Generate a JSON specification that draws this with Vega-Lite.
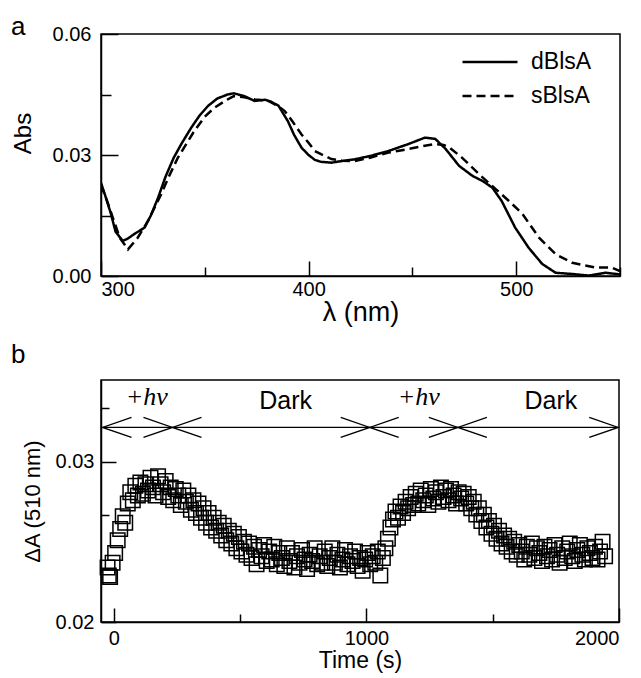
{
"$schema": "https://vega.github.io/schema/vega-lite/v6.json",
"background": "white",
"padding": {"left": 10, "top": 13, "right": 5, "bottom": 5},
"spacing": 15,
"config": {
  "font": "Liberation Sans",
  "view": {"stroke": "black", "strokeWidth": 1.5},
  "axis": {"domainColor": "black", "domainWidth": 1.5, "tickColor": "black", "tickWidth": 1.5, "labelFont": "Liberation Sans", "labelFontSize": 20, "labelColor": "black", "titleFont": "Liberation Sans", "titleFontWeight": "normal", "titleColor": "black", "grid": false},
  "title": {"font": "Liberation Sans", "fontWeight": "normal", "fontSize": 26, "color": "black"}
},
"datasets": {
  "spec": [
    {"s":"dBlsA","w":300,"a":0.0231},{"s":"dBlsA","w":302,"a":0.0200},{"s":"dBlsA","w":304.8,"a":0.0154},{"s":"dBlsA","w":307,"a":0.0110},{"s":"dBlsA","w":310.5,"a":0.0087},{"s":"dBlsA","w":313,"a":0.0093},{"s":"dBlsA","w":316,"a":0.0104},{"s":"dBlsA","w":321,"a":0.0120},{"s":"dBlsA","w":324,"a":0.0150},{"s":"dBlsA","w":327.5,"a":0.0194},{"s":"dBlsA","w":331,"a":0.0245},{"s":"dBlsA","w":335,"a":0.0293},{"s":"dBlsA","w":339,"a":0.0330},{"s":"dBlsA","w":343.5,"a":0.0368},{"s":"dBlsA","w":347.5,"a":0.0398},{"s":"dBlsA","w":351.6,"a":0.0422},{"s":"dBlsA","w":356,"a":0.0440},{"s":"dBlsA","w":361,"a":0.0450},{"s":"dBlsA","w":364,"a":0.0453},{"s":"dBlsA","w":369,"a":0.0446},{"s":"dBlsA","w":374,"a":0.0434},{"s":"dBlsA","w":379,"a":0.0437},{"s":"dBlsA","w":382,"a":0.0432},{"s":"dBlsA","w":385.5,"a":0.0422},{"s":"dBlsA","w":390,"a":0.0384},{"s":"dBlsA","w":393,"a":0.0350},{"s":"dBlsA","w":396.6,"a":0.0318},{"s":"dBlsA","w":400,"a":0.0300},{"s":"dBlsA","w":403,"a":0.0288},{"s":"dBlsA","w":406,"a":0.0283},{"s":"dBlsA","w":411,"a":0.0281},{"s":"dBlsA","w":416,"a":0.0285},{"s":"dBlsA","w":422,"a":0.0289},{"s":"dBlsA","w":430,"a":0.0298},{"s":"dBlsA","w":438.5,"a":0.0310},{"s":"dBlsA","w":448,"a":0.0327},{"s":"dBlsA","w":456,"a":0.0343},{"s":"dBlsA","w":461,"a":0.0340},{"s":"dBlsA","w":466,"a":0.0315},{"s":"dBlsA","w":472.5,"a":0.0273},{"s":"dBlsA","w":479,"a":0.0248},{"s":"dBlsA","w":484,"a":0.0235},{"s":"dBlsA","w":488.5,"a":0.0219},{"s":"dBlsA","w":493,"a":0.0186},{"s":"dBlsA","w":499.5,"a":0.0120},{"s":"dBlsA","w":506,"a":0.0070},{"s":"dBlsA","w":512.5,"a":0.0030},{"s":"dBlsA","w":519,"a":0.0008},{"s":"dBlsA","w":527,"a":0.0005},{"s":"dBlsA","w":535,"a":0.0001},{"s":"dBlsA","w":543,"a":0.0008},{"s":"dBlsA","w":550,"a":0.0004},
    {"s":"sBlsA","w":300,"a":0.0225},{"s":"sBlsA","w":303,"a":0.0185},{"s":"sBlsA","w":306,"a":0.0140},{"s":"sBlsA","w":309,"a":0.0095},{"s":"sBlsA","w":313,"a":0.0066},{"s":"sBlsA","w":317.7,"a":0.0095},{"s":"sBlsA","w":323,"a":0.0140},{"s":"sBlsA","w":329,"a":0.0203},{"s":"sBlsA","w":333,"a":0.0250},{"s":"sBlsA","w":337,"a":0.0293},{"s":"sBlsA","w":345,"a":0.0360},{"s":"sBlsA","w":350,"a":0.0395},{"s":"sBlsA","w":354.6,"a":0.0417},{"s":"sBlsA","w":360,"a":0.0435},{"s":"sBlsA","w":364,"a":0.0446},{"s":"sBlsA","w":369,"a":0.0443},{"s":"sBlsA","w":374,"a":0.0438},{"s":"sBlsA","w":380.6,"a":0.0434},{"s":"sBlsA","w":385,"a":0.0422},{"s":"sBlsA","w":388.5,"a":0.0409},{"s":"sBlsA","w":392,"a":0.0385},{"s":"sBlsA","w":396.6,"a":0.0351},{"s":"sBlsA","w":400,"a":0.0330},{"s":"sBlsA","w":403,"a":0.0310},{"s":"sBlsA","w":406,"a":0.0302},{"s":"sBlsA","w":411,"a":0.0290},{"s":"sBlsA","w":416,"a":0.0286},{"s":"sBlsA","w":422,"a":0.0285},{"s":"sBlsA","w":430,"a":0.0294},{"s":"sBlsA","w":438.5,"a":0.0306},{"s":"sBlsA","w":445,"a":0.0312},{"s":"sBlsA","w":451,"a":0.0318},{"s":"sBlsA","w":456,"a":0.0323},{"s":"sBlsA","w":461,"a":0.0327},{"s":"sBlsA","w":465,"a":0.0325},{"s":"sBlsA","w":468,"a":0.0318},{"s":"sBlsA","w":474,"a":0.0293},{"s":"sBlsA","w":482,"a":0.0253},{"s":"sBlsA","w":490,"a":0.0216},{"s":"sBlsA","w":496.5,"a":0.0186},{"s":"sBlsA","w":503,"a":0.0154},{"s":"sBlsA","w":511,"a":0.0095},{"s":"sBlsA","w":519,"a":0.0054},{"s":"sBlsA","w":527,"a":0.0033},{"s":"sBlsA","w":538,"a":0.0021},{"s":"sBlsA","w":546,"a":0.0021},{"s":"sBlsA","w":550,"a":0.0012}
  ],
  "kin": [
    {"t":-25,"v":0.0234},{"t":-20,"v":0.0229},{"t":-15,"v":0.0228},{"t":-5,"v":0.0237},{"t":5,"v":0.0243},{"t":15,"v":0.0251},{"t":25,"v":0.0258},{"t":35,"v":0.0266},{"t":45,"v":0.0262},{"t":55,"v":0.0274},{"t":65,"v":0.0281},{"t":75,"v":0.0276},{"t":85,"v":0.0285},{"t":95,"v":0.0279},{"t":105,"v":0.0287},{"t":115,"v":0.0280},{"t":125,"v":0.0286},{"t":135,"v":0.0282},{"t":145,"v":0.0290},{"t":155,"v":0.0284},{"t":165,"v":0.0279},{"t":175,"v":0.0291},{"t":185,"v":0.0286},{"t":195,"v":0.0281},{"t":205,"v":0.0288},{"t":215,"v":0.0278},{"t":225,"v":0.0284},{"t":235,"v":0.0276},{"t":245,"v":0.0283},{"t":255,"v":0.0279},{"t":265,"v":0.0273},{"t":275,"v":0.0282},{"t":285,"v":0.0275},{"t":295,"v":0.0279},{"t":305,"v":0.0270},{"t":315,"v":0.0276},{"t":325,"v":0.0268},{"t":335,"v":0.0274},{"t":345,"v":0.0265},{"t":355,"v":0.0271},{"t":365,"v":0.0262},{"t":375,"v":0.0268},{"t":385,"v":0.0259},{"t":395,"v":0.0265},{"t":405,"v":0.0257},{"t":415,"v":0.0262},{"t":425,"v":0.0254},{"t":435,"v":0.0260},{"t":445,"v":0.0251},{"t":455,"v":0.0257},{"t":465,"v":0.0249},{"t":475,"v":0.0255},{"t":485,"v":0.0246},{"t":495,"v":0.0253},{"t":505,"v":0.0244},{"t":515,"v":0.0250},{"t":525,"v":0.0242},{"t":535,"v":0.0249},{"t":545,"v":0.0240},{"t":555,"v":0.0247},{"t":565,"v":0.0236},{"t":575,"v":0.0245},{"t":585,"v":0.0241},{"t":595,"v":0.0248},{"t":605,"v":0.0238},{"t":615,"v":0.0244},{"t":625,"v":0.0239},{"t":635,"v":0.0247},{"t":645,"v":0.0236},{"t":655,"v":0.0243},{"t":665,"v":0.0240},{"t":675,"v":0.0235},{"t":685,"v":0.0246},{"t":695,"v":0.0238},{"t":705,"v":0.0243},{"t":715,"v":0.0234},{"t":725,"v":0.0241},{"t":735,"v":0.0237},{"t":745,"v":0.0245},{"t":755,"v":0.0239},{"t":765,"v":0.0233},{"t":775,"v":0.0242},{"t":785,"v":0.0238},{"t":795,"v":0.0246},{"t":805,"v":0.0236},{"t":815,"v":0.0241},{"t":825,"v":0.0237},{"t":835,"v":0.0244},{"t":845,"v":0.0235},{"t":855,"v":0.0240},{"t":865,"v":0.0246},{"t":875,"v":0.0237},{"t":885,"v":0.0242},{"t":895,"v":0.0234},{"t":905,"v":0.0239},{"t":915,"v":0.0245},{"t":925,"v":0.0236},{"t":935,"v":0.0241},{"t":945,"v":0.0238},{"t":955,"v":0.0244},{"t":965,"v":0.0235},{"t":975,"v":0.0240},{"t":985,"v":0.0232},{"t":995,"v":0.0239},{"t":1005,"v":0.0243},{"t":1015,"v":0.0236},{"t":1025,"v":0.0241},{"t":1035,"v":0.0237},{"t":1045,"v":0.0244},{"t":1055,"v":0.0229},{"t":1065,"v":0.0240},{"t":1075,"v":0.0246},{"t":1085,"v":0.0252},{"t":1095,"v":0.0259},{"t":1105,"v":0.0264},{"t":1115,"v":0.0269},{"t":1125,"v":0.0265},{"t":1135,"v":0.0272},{"t":1145,"v":0.0268},{"t":1155,"v":0.0275},{"t":1165,"v":0.0271},{"t":1175,"v":0.0278},{"t":1185,"v":0.0273},{"t":1195,"v":0.0280},{"t":1205,"v":0.0274},{"t":1215,"v":0.0282},{"t":1225,"v":0.0276},{"t":1235,"v":0.0279},{"t":1245,"v":0.0273},{"t":1255,"v":0.0283},{"t":1265,"v":0.0277},{"t":1275,"v":0.0281},{"t":1285,"v":0.0275},{"t":1295,"v":0.0284},{"t":1305,"v":0.0278},{"t":1315,"v":0.0282},{"t":1325,"v":0.0276},{"t":1335,"v":0.0283},{"t":1345,"v":0.0279},{"t":1355,"v":0.0274},{"t":1365,"v":0.0281},{"t":1375,"v":0.0277},{"t":1385,"v":0.0280},{"t":1395,"v":0.0274},{"t":1405,"v":0.0278},{"t":1415,"v":0.0271},{"t":1425,"v":0.0275},{"t":1435,"v":0.0267},{"t":1445,"v":0.0271},{"t":1455,"v":0.0263},{"t":1465,"v":0.0267},{"t":1475,"v":0.0259},{"t":1485,"v":0.0263},{"t":1495,"v":0.0255},{"t":1505,"v":0.0260},{"t":1515,"v":0.0252},{"t":1525,"v":0.0257},{"t":1535,"v":0.0249},{"t":1545,"v":0.0254},{"t":1555,"v":0.0247},{"t":1565,"v":0.0252},{"t":1575,"v":0.0244},{"t":1585,"v":0.0250},{"t":1595,"v":0.0242},{"t":1605,"v":0.0248},{"t":1615,"v":0.0244},{"t":1625,"v":0.0239},{"t":1635,"v":0.0247},{"t":1645,"v":0.0242},{"t":1655,"v":0.0249},{"t":1665,"v":0.0240},{"t":1675,"v":0.0246},{"t":1685,"v":0.0243},{"t":1695,"v":0.0238},{"t":1705,"v":0.0247},{"t":1715,"v":0.0241},{"t":1725,"v":0.0245},{"t":1735,"v":0.0239},{"t":1745,"v":0.0248},{"t":1755,"v":0.0242},{"t":1765,"v":0.0237},{"t":1775,"v":0.0246},{"t":1785,"v":0.0240},{"t":1795,"v":0.0244},{"t":1805,"v":0.0249},{"t":1815,"v":0.0241},{"t":1825,"v":0.0238},{"t":1835,"v":0.0245},{"t":1845,"v":0.0248},{"t":1855,"v":0.0242},{"t":1865,"v":0.0239},{"t":1875,"v":0.0246},{"t":1885,"v":0.0243},{"t":1895,"v":0.0240},{"t":1905,"v":0.0247},{"t":1915,"v":0.0239},{"t":1925,"v":0.0244},{"t":1935,"v":0.0250},{"t":1945,"v":0.0241}
  ],
  "arrow": [{"t":-45,"t2":1997,"v":0.03214}],
  "heads": [
    {"t":-45,"v":0.03214,"dir":"left"},{"t":232,"v":0.03214,"dir":"right"},{"t":232,"v":0.03214,"dir":"left"},{"t":1013,"v":0.03214,"dir":"right"},{"t":1013,"v":0.03214,"dir":"left"},{"t":1362,"v":0.03214,"dir":"right"},{"t":1362,"v":0.03214,"dir":"left"},{"t":1997,"v":0.03214,"dir":"right"}
  ],
  "light": [{"t":130,"v":0.03356,"label":"+hν"},{"t":1207,"v":0.03356,"label":"+hν"}],
  "dark": [{"t":680,"v":0.03331,"label":"Dark"},{"t":1730,"v":0.03331,"label":"Dark"}]
},
"vconcat": [
  {
    "width": 519, "height": 242,
    "title": {"text": "a", "anchor": "start", "frame": "group", "dx": -90, "offset": -16},
    "data": {"name": "spec"},
    "mark": {"type": "line", "strokeWidth": 2.5, "clip": true, "color": "black"},
    "encoding": {
      "x": {"field": "w", "type": "quantitative", "scale": {"domain": [300, 550], "nice": false, "zero": false},
        "axis": {"title": "λ (nm)", "titleFontSize": 27, "titlePadding": 0, "labelPadding": 18, "values": [300, 350, 400, 450, 500, 550], "format": "d",
          "labelExpr": "datum.value % 100 === 0 ? datum.label : ''",
          "tickSize": {"condition": {"test": "datum.value % 100 === 0", "value": -15}, "value": -9}}},
      "y": {"field": "a", "type": "quantitative", "scale": {"domain": [0, 0.06], "nice": false},
        "axis": {"title": "Abs", "titleFontSize": 24, "titlePadding": 17, "titleY": 99, "labelPadding": 27, "values": [0, 0.015, 0.03, 0.045, 0.06], "format": ".2f",
          "labelExpr": "abs(datum.value/0.03 - round(datum.value/0.03)) < 0.000001 ? format(datum.value, '.2f') : ''",
          "tickSize": {"condition": {"test": "abs(datum.value/0.03 - round(datum.value/0.03)) < 0.000001", "value": -17}, "value": -10}}},
      "strokeDash": {"field": "s", "type": "nominal", "scale": {"domain": ["dBlsA", "sBlsA"], "range": [[1, 0], [9, 5]]},
        "legend": {"title": null, "orient": "none", "legendX": 360, "legendY": 13, "symbolType": "stroke", "symbolSize": 3025, "symbolStrokeWidth": 2.5, "symbolStrokeColor": "black", "labelFontSize": 23, "labelFont": "Liberation Sans", "labelColor": "black", "labelOffset": 12, "clipHeight": 30, "rowPadding": 4, "padding": 0}}
    }
  },
  {
    "width": 518, "height": 242,
    "title": {"text": "b", "anchor": "start", "frame": "group", "dx": -90, "offset": 12},
    "encoding": {
      "x": {"field": "t", "type": "quantitative", "scale": {"domain": [-51, 2000], "nice": false, "zero": false},
        "axis": {"title": "Time (s)", "titleFontSize": 23, "titlePadding": 1, "labelPadding": 20, "values": [0, 500, 1000, 1500, 2000], "format": "d",
          "labelExpr": "datum.value % 1000 === 0 ? datum.label : ''",
          "tickSize": {"condition": {"test": "datum.value % 1000 === 0", "value": -14}, "value": -8}}},
      "y": {"field": "v", "type": "quantitative", "scale": {"domain": [0.02, 0.0351], "nice": false, "zero": false},
        "axis": {"title": "ΔA (510 nm)", "titleFontSize": 22, "titlePadding": 11, "labelPadding": 22, "values": [0.02, 0.023333, 0.026667, 0.03, 0.033333], "format": ".2f",
          "labelExpr": "abs(datum.value*100 - round(datum.value*100)) < 0.00001 ? format(datum.value, '.2f') : ''",
          "tickSize": {"condition": {"test": "abs(datum.value*100 - round(datum.value*100)) < 0.00001", "value": -15}, "value": -8}}}
    },
    "layer": [
      {"data": {"name": "arrow"}, "mark": {"type": "rule", "color": "black", "strokeWidth": 1.3}, "encoding": {"x2": {"field": "t2"}}},
      {"data": {"name": "heads"}, "mark": {"type": "point", "filled": false, "size": 3364, "stroke": "black", "strokeWidth": 1.3, "opacity": 1},
        "encoding": {"shape": {"field": "dir", "type": "nominal", "scale": {"domain": ["left", "right"], "range": ["M1,-0.345L0,0L1,0.345", "M-1,-0.345L0,0L-1,0.345"]}, "legend": null}}},
      {"data": {"name": "kin"}, "mark": {"type": "point", "shape": "square", "filled": false, "size": 210, "stroke": "black", "strokeWidth": 1.5, "opacity": 1}},
      {"data": {"name": "light"}, "mark": {"type": "text", "font": "Liberation Serif", "fontStyle": "italic", "fontSize": 26, "baseline": "alphabetic", "align": "center", "color": "black"}, "encoding": {"text": {"field": "label"}}},
      {"data": {"name": "dark"}, "mark": {"type": "text", "font": "Liberation Sans", "fontSize": 25, "baseline": "alphabetic", "align": "center", "color": "black"}, "encoding": {"text": {"field": "label"}}}
    ]
  }
]
}
